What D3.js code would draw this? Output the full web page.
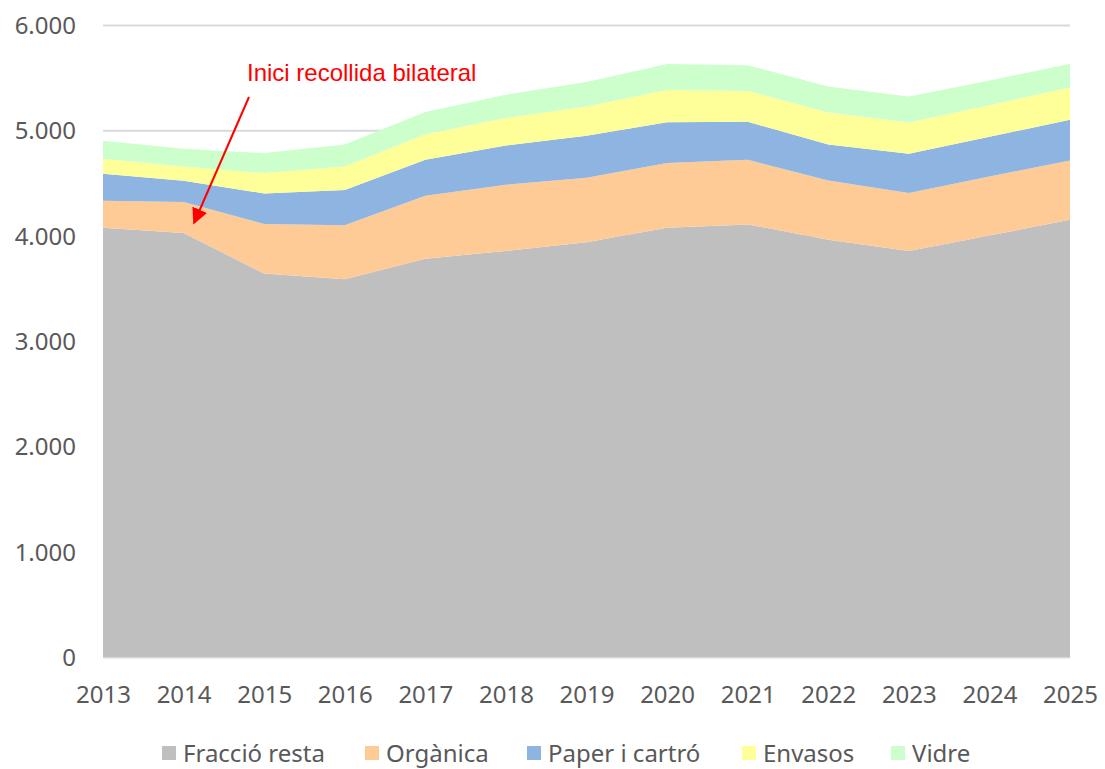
<!DOCTYPE html>
<html>
<head>
<meta charset="utf-8">
<script src="https://cdn.jsdelivr.net/npm/d3@7"></script>
<style>
  body { margin: 0; background: #fff; }
  .tick text { font-family: "Noto Sans", sans-serif; fill: #595959; }
</style>
</head>
<body>
<div id="chart"></div>
<script>
var years = ["2013","2014","2015","2016","2017","2018","2019","2020","2021","2022","2023","2024","2025"];
var resta    = [4076, 4026, 3640, 3586, 3782, 3855, 3937, 4076, 4107, 3962, 3855, 4001, 4152];
var organica = [ 256,  293,  471,  512,  597,  628,  613,  613,  613,  562,  550,  560,  562];
var paper    = [ 256,  202,  290,  335,  341,  373,  398,  388,  361,  342,  372,  377,  386];
var envasos  = [ 142,  136,  193,  224,  244,  260,  278,  307,  293,  303,  297,  301,  306];
var vidre    = [ 170,  168,  190,  209,  211,  223,  234,  246,  244,  246,  247,  234,  227];
var series_names = ["Fracció resta", "Orgànica", "Paper i cartró", "Envasos", "Vidre"];
var series_colors = ["#bfbfbf", "#fecb97", "#8eb4e2", "#ffff99", "#ccffcc"];
var y_ticks = [0, 1000, 2000, 3000, 4000, 5000, 6000];
var note_text = "Inici recollida bilateral";

var width = 1105, height = 769;
var plotLeft = 103, plotRight = 1070, plotTop = 25, plotBottom = 657;

var table = years.map(function(y, i) {
    return { year: y, "Fracció resta": resta[i], "Orgànica": organica[i],
             "Paper i cartró": paper[i], "Envasos": envasos[i], "Vidre": vidre[i] };
});

var svg = d3.select("#chart").append("svg").attr("width", width).attr("height", height);

var x = d3.scalePoint().domain(years).range([plotLeft, plotRight]);
var y = d3.scaleLinear().domain([0, 6000]).range([plotBottom, plotTop]);

// grid
svg.append("g").selectAll("line").data(y_ticks).enter().append("line")
    .attr("x1", plotLeft).attr("x2", plotRight)
    .attr("y1", function(d) { return y(d) + 0.5; }).attr("y2", function(d) { return y(d) + 0.5; })
    .attr("stroke", "#d9d9d9").attr("stroke-width", 2);

// stacked areas
var stack = d3.stack().keys(series_names);
var layers = stack(table);
var area = d3.area()
    .x(function(d) { return x(d.data.year); })
    .y0(function(d) { return y(d[0]); })
    .y1(function(d) { return y(d[1]); });

svg.append("g").selectAll("path").data(layers).enter().append("path")
    .attr("d", area)
    .attr("fill", function(d, i) { return series_colors[i]; });

// y axis labels
var yAxis = svg.append("g").attr("transform", "translate(76,0)")
    .call(d3.axisLeft(y).tickValues(y_ticks).tickSize(0).tickPadding(0)
        .tickFormat(function(d) { return d3.format(",")(d).replace(/,/g, "."); }));
yAxis.select(".domain").remove();
yAxis.selectAll("text").style("font-size", "24px").attr("dy", "0.35em");

// x axis labels
var xAxis = svg.append("g").attr("transform", "translate(0," + plotBottom + ")")
    .call(d3.axisBottom(x).tickSize(0).tickPadding(29));
xAxis.select(".domain").remove();
xAxis.selectAll("text").style("font-size", "24px");

// legend
var legend_x = [162, 365, 527, 742, 891];
var leg = svg.append("g").selectAll("g").data(series_names).enter().append("g")
    .attr("transform", function(d, i) { return "translate(" + legend_x[i] + ",746)"; });
leg.append("rect").attr("x", 0).attr("y", 0).attr("width", 14).attr("height", 14)
    .attr("fill", function(d, i) { return series_colors[i]; });
leg.append("text").attr("x", 21).attr("y", 16).text(function(d) { return d; })
    .style("font-family", "Noto Sans, sans-serif").style("font-size", "24px").attr("fill", "#595959");

// annotation
var defs = svg.append("defs");
defs.append("marker").attr("id", "arrow").attr("viewBox", "0 0 10 10")
    .attr("refX", 9).attr("refY", 5).attr("markerWidth", 8).attr("markerHeight", 8)
    .attr("orient", "auto")
    .append("path").attr("d", "M0,0L10,5L0,10z").attr("fill", "#ff0000");

svg.append("text").attr("x", 247).attr("y", 81).text(note_text)
    .style("font-family", "Liberation Sans, Arial, sans-serif").style("font-size", "24px")
    .attr("fill", "#ff0000");

svg.append("line")
    .attr("x1", 249).attr("y1", 97)
    .attr("x2", 194).attr("y2", 223)
    .attr("stroke", "#ff0000").attr("stroke-width", 2)
    .attr("marker-end", "url(#arrow)");
</script>
</body>
</html>
